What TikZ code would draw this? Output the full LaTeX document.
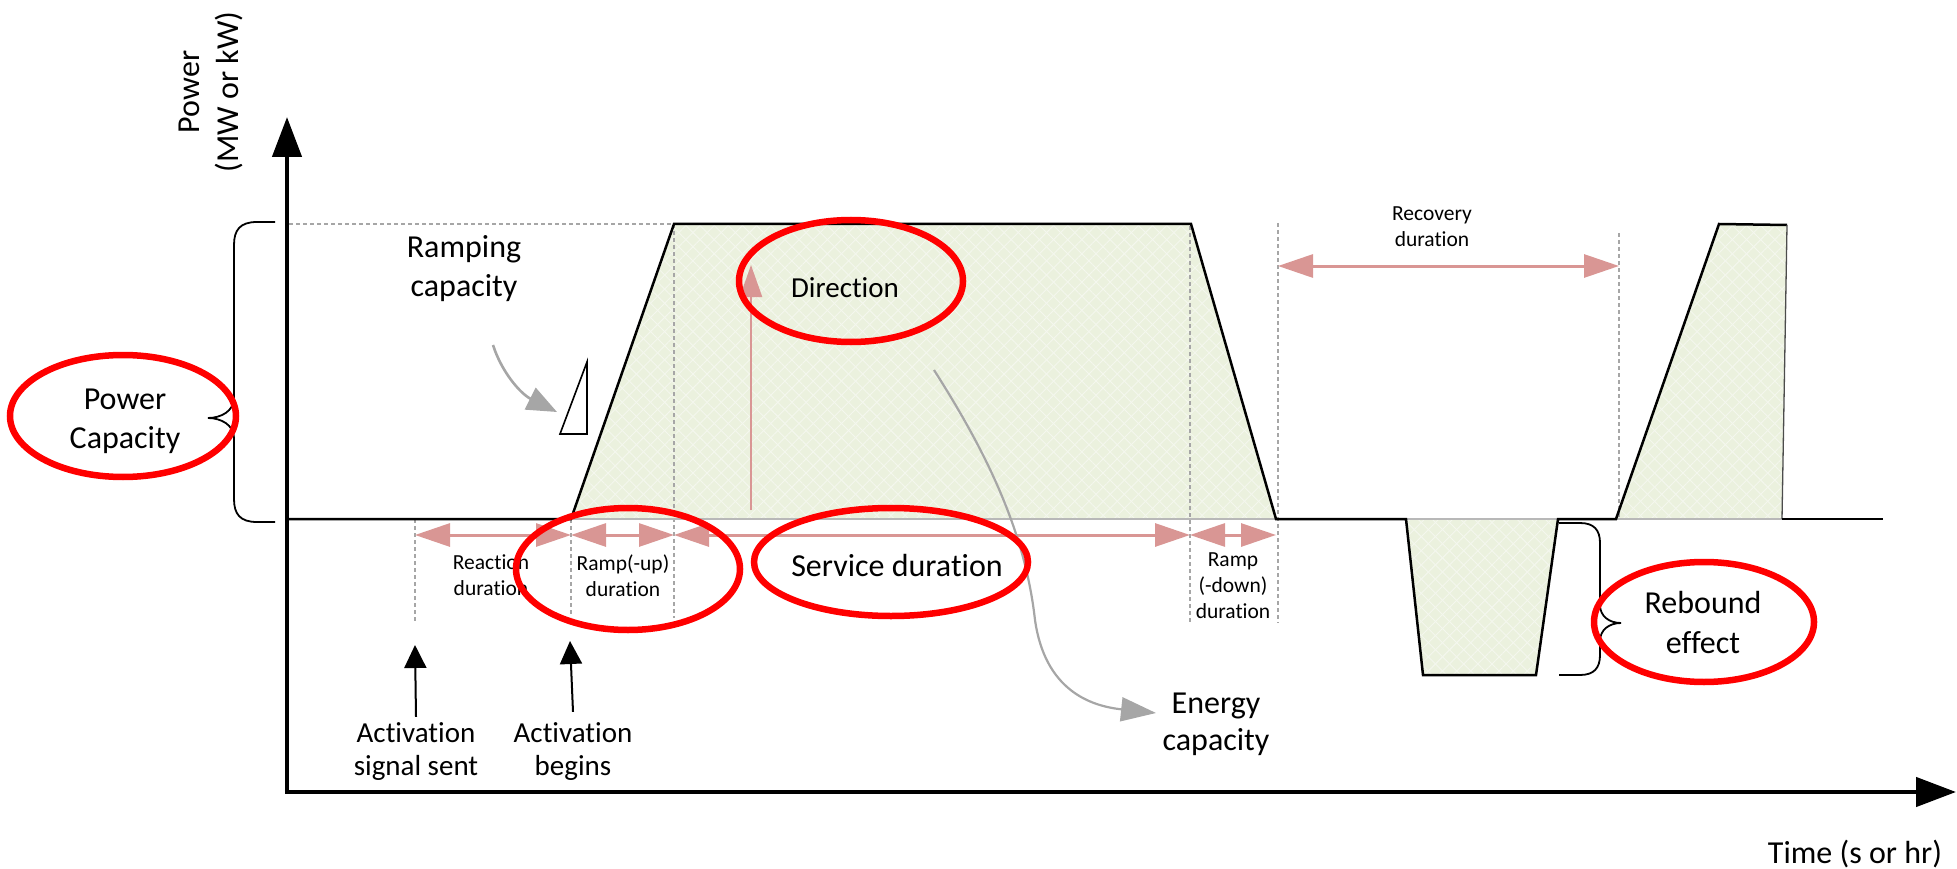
\documentclass[tikz,border=0pt]{standalone}
\usepackage{fontspec}
\setmainfont{Carlito}[Ligatures={NoCommon}]
\usetikzlibrary{arrows.meta,patterns.meta}

\definecolor{fillgreen}{HTML}{EBF1DE}
\definecolor{latticegreen}{HTML}{F4F7EE}
\definecolor{pinkarrow}{HTML}{D99694}
\definecolor{guidegrey}{HTML}{A6A6A6}
\definecolor{markred}{HTML}{FF0000}

\begin{document}
\begin{tikzpicture}[x=1pt,y=-1pt,
  bigtxt/.style={font=\fontsize{32}{39}\selectfont,align=center,inner sep=0pt},
  midtxt/.style={font=\fontsize{29}{33}\selectfont,align=center,inner sep=0pt},
  smalltxt/.style={font=\fontsize{21.5}{26}\selectfont,align=center,inner sep=0pt},
  axisline/.style={line width=4.5pt,-{Triangle[length=40pt,width=29pt]}},
  guide/.style={guidegrey,line width=2pt,dash pattern=on 4pt off 3pt},
  span/.style={pinkarrow,line width=3pt,{Triangle[length=35pt,width=23pt]}-{Triangle[length=35pt,width=23pt]}},
  energyarea/.style={fill=fillgreen,
    postaction={pattern={Lines[angle=45,distance=10pt,line width=0.9pt]},pattern color=latticegreen},
    postaction={pattern={Lines[angle=-45,distance=10pt,line width=0.9pt]},pattern color=latticegreen}},
  profile/.style={black,line width=2.5pt,line join=miter},
  areabottom/.style={guidegrey!80!white,line width=2.5pt},
  brace/.style={black,line width=1.8pt},
  callout/.style={guidegrey,line width=2.6pt},
  redmark/.style={markred,line width=6.5pt},
  trigger/.style={black,line width=2pt,-{Triangle[length=23pt,width=22pt]}}
]
\useasboundingbox (0,0) rectangle (1957,869);

% ---------- key points of the power profile ----------
\coordinate (b0) at (287,519);   % zero-power level at the axis
\coordinate (bEnd) at (1883,519);
\coordinate (p1) at (571,519);
\coordinate (p2) at (674,224);
\coordinate (p3) at (1191,224);
\coordinate (p4) at (1276,519);
\coordinate (d1) at (1406,519);
\coordinate (d2) at (1423,675);
\coordinate (d3) at (1536,675);
\coordinate (d4) at (1558,519);
\coordinate (q1) at (1616,519);
\coordinate (q2) at (1719,224);
\coordinate (q3) at (1787,225);
\coordinate (q4) at (1782,519);

% ---------- shaded energy areas ----------
\path[energyarea] (p1) -- (p2) -- (p3) -- (p4) -- cycle;
\path[energyarea] (d1) -- (d2) -- (d3) -- (d4) -- cycle;
\path[energyarea] (q1) -- (q2) -- (q3) -- (q4) -- cycle;

% ---------- dashed guide lines ----------
\coordinate (gTopL) at (289,224);
\coordinate (gReactT) at (415,519); \coordinate (gReactB) at (415,623);
\coordinate (gRampB) at (571,617);
\coordinate (gSvcB) at (674,618);
\coordinate (gEndT) at (1190,226);  \coordinate (gEndB) at (1190,623);
\coordinate (gDownT) at (1278,223); \coordinate (gDownB) at (1278,623);
\coordinate (gRecT) at (1619,233);  \coordinate (gRecB) at (1619,519);
\draw[guide] (gTopL) -- (p2);
\draw[guide] (gReactT) -- (gReactB);
\draw[guide] (p1) -- (gRampB);
\draw[guide] (p2) -- (gSvcB);
\draw[guide] (gEndT) -- (gEndB);
\draw[guide] (gDownT) -- (gDownB);
\draw[guide] (gRecT) -- (gRecB);

% ---------- profile outlines and zero level ----------
\draw[areabottom] (p1) -- (p4);
\draw[areabottom] (d1) -- (d4);
\draw[areabottom] (q1) -- (q4);
\draw[profile] (b0) -- (p1) -- (p2) -- (p3) -- (p4) -- (d1) -- (d2) -- (d3) -- (d4) -- (q1) -- (q2) -- (q3);
\draw[black!70,line width=1.3pt] (q3) -- (q4);
\draw[profile] (q4) -- (bEnd);

% ---------- axes ----------
\coordinate (corner) at (284.75,792);
\coordinate (O) at (287,792);
\coordinate (ytip) at (287,117);
\coordinate (xtip) at (1956,792);
\draw[axisline] (O) -- (ytip);
\draw[axisline] (corner) -- (xtip);
\node[bigtxt,rotate=90] (ylab) at (211,92) {Power\\(MW or kW)};
\node[bigtxt,anchor=base] (xlab) at (1855,863) {Time (s or hr)};

% ---------- duration spans ----------
\coordinate (spanrow) at (0,535);
\coordinate (recrow) at (0,266);
\draw[span] (gReactT |- spanrow) -- (p1 |- spanrow);
\draw[span] (p1 |- spanrow) -- (p2 |- spanrow);
\draw[span] (p2 |- spanrow) -- (gEndT |- spanrow);
\draw[span] (gEndT |- spanrow) -- (p4 |- spanrow);
\draw[span] (gDownT |- recrow) -- (gRecT |- recrow);

% ---------- direction arrow ----------
\coordinate (dirfoot) at (751,510);
\coordinate (dirhead) at (751,265);
\draw[pinkarrow,line width=2.3pt,-{Triangle[length=32pt,width=22pt]}] (dirfoot) -- (dirhead);

% ---------- braces ----------
\draw[brace] (275,222) -- (257,222) .. controls (240,222) and (234,230) .. (234,245)
  -- (234,398) .. controls (234,411) and (221,418) .. (208,418)
  .. controls (221,418) and (234,425) .. (234,438)
  -- (234,499) .. controls (234,514) and (240,522) .. (257,522) -- (275,522);
\draw[brace] (1559,523) -- (1580,523) .. controls (1594,523) and (1600,530) .. (1600,543)
  -- (1600,605) .. controls (1600,616) and (1609,623) .. (1621,623)
  .. controls (1609,623) and (1600,630) .. (1600,641)
  -- (1600,655) .. controls (1600,668) and (1594,675) .. (1580,675) -- (1559,675);

% ---------- ramp slope marker ----------
\coordinate (s1) at (560,434);
\coordinate (s2) at (587,434);
\coordinate (s3) at (587,362);
\draw[draw=black,fill=white,line width=1.6pt,line join=miter] (s1) -- (s2) -- (s3) -- cycle;

% ---------- labels ----------
\node[bigtxt] (ramping) at (464,269) {Ramping\\capacity};
\node[bigtxt] (powercap) at (125,421) {Power\\Capacity};
\node[midtxt,anchor=base] (direction) at (845,297) {Direction};
\node[bigtxt,anchor=base] (service) at (897,576) {Service duration};
\node[bigtxt,font=\fontsize{32}{37}\selectfont] (energy) at (1216,724) {Energy\\capacity};
\node[midtxt] (actsent) at (416,752) {Activation\\signal sent};
\node[midtxt] (actbegin) at (573,752) {Activation\\begins};
\node[bigtxt,font=\fontsize{32}{40}\selectfont] (rebound) at (1703,623) {Rebound\\effect};
\node[smalltxt] (recovery) at (1432,227) {Recovery\\duration};
\node[smalltxt] (reaction) at (491,575) {Reaction\\duration};
\node[smalltxt] (rampup) at (623,576) {Ramp(-up)\\duration};
\node[smalltxt] (rampdown) at (1233,586) {Ramp\\(-down)\\duration};

% ---------- activation triggers ----------
\coordinate (senttip) at (415,645);
\coordinate (begintip) at (570,641);
\draw[trigger] ([yshift=6pt]actsent.north) -- (senttip);
\draw[trigger] ([yshift=11pt]actbegin.north) -- (begintip);

% ---------- grey callout arrows ----------
\coordinate (rcfrom) at (493,345);
\coordinate (rcto) at (557,412);
\draw[callout,-{Triangle[length=30pt,width=24pt]}] (rcfrom) .. controls (502,373) and (521,394) .. (rcto);
\coordinate (ecfrom) at (934,370);
\coordinate (ecto) at (1156,713);
\draw[callout,line width=2.2pt,-{Triangle[length=35pt,width=24pt]}] (ecfrom)
  .. controls (985,450) and (1025,530) .. (1035,620)
  .. controls (1045,690) and (1090,706) .. (ecto);

% ---------- highlight rings ----------
\coordinate (ringPower) at (123,416);
\coordinate (ringDir) at (851,281);
\coordinate (ringRamp) at (628,569);
\coordinate (ringSvc) at (891,562);
\coordinate (ringReb) at (1704,622);
\draw[redmark] (ringPower) ellipse [x radius=113, y radius=61];
\draw[redmark] (ringDir) ellipse [x radius=112, y radius=61];
\draw[redmark] (ringRamp) ellipse [x radius=112, y radius=61];
\draw[redmark] (ringSvc) ellipse [x radius=137, y radius=54];
\draw[redmark] (ringReb) ellipse [x radius=110, y radius=60];
\end{tikzpicture}
\end{document}
